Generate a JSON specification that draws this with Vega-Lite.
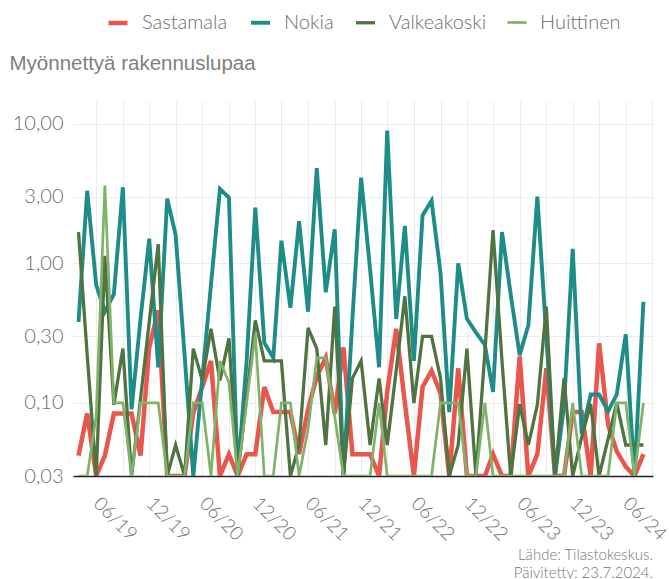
{
 "$schema": "https://vega.github.io/schema/vega-lite/v6.json",
 "width": 580, "height": 375,
 "autosize": {"type": "none"},
 "padding": {"left": 73, "top": 101, "right": 16, "bottom": 103},
 "background": "white",
 "config": {"view": {"stroke": null}, "font": "Lato"},
 "title": {"text": ["Lähde: Tilastokeskus.", "Päivitetty: 23.7.2024."], "orient": "bottom", "anchor": "end", "frame": "group", "font": "Lato", "fontSize": 15, "fontWeight": 300, "color": "#777777", "lineHeight": 18, "offset": 4, "align": "right"},
 "data": {"values": [
{"d":"2019-04-01","s":"Sastamala","v":0.042},{"d":"2019-05-01","s":"Sastamala","v":0.084},{"d":"2019-06-01","s":"Sastamala","v":0.03},{"d":"2019-07-01","s":"Sastamala","v":0.042},{"d":"2019-08-01","s":"Sastamala","v":0.084},{"d":"2019-09-01","s":"Sastamala","v":0.084},{"d":"2019-10-01","s":"Sastamala","v":0.084},{"d":"2019-11-01","s":"Sastamala","v":0.042},{"d":"2019-12-01","s":"Sastamala","v":0.25},{"d":"2020-01-01","s":"Sastamala","v":0.46},{"d":"2020-02-01","s":"Sastamala","v":0.03},{"d":"2020-03-01","s":"Sastamala","v":0.03},{"d":"2020-04-01","s":"Sastamala","v":0.03},{"d":"2020-05-01","s":"Sastamala","v":0.085},{"d":"2020-06-01","s":"Sastamala","v":0.13},{"d":"2020-07-01","s":"Sastamala","v":0.2},{"d":"2020-08-01","s":"Sastamala","v":0.03},{"d":"2020-09-01","s":"Sastamala","v":0.043},{"d":"2020-10-01","s":"Sastamala","v":0.03},{"d":"2020-11-01","s":"Sastamala","v":0.043},{"d":"2020-12-01","s":"Sastamala","v":0.043},{"d":"2021-01-01","s":"Sastamala","v":0.13},{"d":"2021-02-01","s":"Sastamala","v":0.086},{"d":"2021-03-01","s":"Sastamala","v":0.086},{"d":"2021-04-01","s":"Sastamala","v":0.086},{"d":"2021-05-01","s":"Sastamala","v":0.043},{"d":"2021-06-01","s":"Sastamala","v":0.09},{"d":"2021-07-01","s":"Sastamala","v":0.155},{"d":"2021-08-01","s":"Sastamala","v":0.21},{"d":"2021-09-01","s":"Sastamala","v":0.084},{"d":"2021-10-01","s":"Sastamala","v":0.25},{"d":"2021-11-01","s":"Sastamala","v":0.043},{"d":"2021-12-01","s":"Sastamala","v":0.043},{"d":"2022-01-01","s":"Sastamala","v":0.043},{"d":"2022-02-01","s":"Sastamala","v":0.03},{"d":"2022-03-01","s":"Sastamala","v":0.12},{"d":"2022-04-01","s":"Sastamala","v":0.34},{"d":"2022-05-01","s":"Sastamala","v":0.1},{"d":"2022-06-01","s":"Sastamala","v":0.03},{"d":"2022-07-01","s":"Sastamala","v":0.13},{"d":"2022-08-01","s":"Sastamala","v":0.17},{"d":"2022-09-01","s":"Sastamala","v":0.117},{"d":"2022-10-01","s":"Sastamala","v":0.03},{"d":"2022-11-01","s":"Sastamala","v":0.177},{"d":"2022-12-01","s":"Sastamala","v":0.03},{"d":"2023-01-01","s":"Sastamala","v":0.03},{"d":"2023-02-01","s":"Sastamala","v":0.03},{"d":"2023-03-01","s":"Sastamala","v":0.043},{"d":"2023-04-01","s":"Sastamala","v":0.03},{"d":"2023-05-01","s":"Sastamala","v":0.03},{"d":"2023-06-01","s":"Sastamala","v":0.215},{"d":"2023-07-01","s":"Sastamala","v":0.03},{"d":"2023-08-01","s":"Sastamala","v":0.043},{"d":"2023-09-01","s":"Sastamala","v":0.177},{"d":"2023-10-01","s":"Sastamala","v":0.03},{"d":"2023-11-01","s":"Sastamala","v":0.03},{"d":"2023-12-01","s":"Sastamala","v":0.086},{"d":"2024-01-01","s":"Sastamala","v":0.086},{"d":"2024-02-01","s":"Sastamala","v":0.03},{"d":"2024-03-01","s":"Sastamala","v":0.267},{"d":"2024-04-01","s":"Sastamala","v":0.07},{"d":"2024-05-01","s":"Sastamala","v":0.045},{"d":"2024-06-01","s":"Sastamala","v":0.035},{"d":"2024-07-01","s":"Sastamala","v":0.03},{"d":"2024-08-01","s":"Sastamala","v":0.043},
{"d":"2019-04-01","s":"Nokia","v":0.38},{"d":"2019-05-01","s":"Nokia","v":3.3},{"d":"2019-06-01","s":"Nokia","v":0.7},{"d":"2019-07-01","s":"Nokia","v":0.45},{"d":"2019-08-01","s":"Nokia","v":0.6},{"d":"2019-09-01","s":"Nokia","v":3.5},{"d":"2019-10-01","s":"Nokia","v":0.09},{"d":"2019-11-01","s":"Nokia","v":0.4},{"d":"2019-12-01","s":"Nokia","v":1.5},{"d":"2020-01-01","s":"Nokia","v":0.18},{"d":"2020-02-01","s":"Nokia","v":2.9},{"d":"2020-03-01","s":"Nokia","v":1.6},{"d":"2020-04-01","s":"Nokia","v":0.22},{"d":"2020-05-01","s":"Nokia","v":0.03},{"d":"2020-06-01","s":"Nokia","v":0.15},{"d":"2020-07-01","s":"Nokia","v":0.7},{"d":"2020-08-01","s":"Nokia","v":3.4},{"d":"2020-09-01","s":"Nokia","v":2.95},{"d":"2020-10-01","s":"Nokia","v":0.03},{"d":"2020-11-01","s":"Nokia","v":0.2},{"d":"2020-12-01","s":"Nokia","v":2.5},{"d":"2021-01-01","s":"Nokia","v":0.27},{"d":"2021-02-01","s":"Nokia","v":0.21},{"d":"2021-03-01","s":"Nokia","v":1.45},{"d":"2021-04-01","s":"Nokia","v":0.48},{"d":"2021-05-01","s":"Nokia","v":2.0},{"d":"2021-06-01","s":"Nokia","v":0.45},{"d":"2021-07-01","s":"Nokia","v":4.8},{"d":"2021-08-01","s":"Nokia","v":0.62},{"d":"2021-09-01","s":"Nokia","v":1.75},{"d":"2021-10-01","s":"Nokia","v":0.03},{"d":"2021-11-01","s":"Nokia","v":0.4},{"d":"2021-12-01","s":"Nokia","v":4.1},{"d":"2022-01-01","s":"Nokia","v":0.9},{"d":"2022-02-01","s":"Nokia","v":0.18},{"d":"2022-03-01","s":"Nokia","v":8.9},{"d":"2022-04-01","s":"Nokia","v":0.4},{"d":"2022-05-01","s":"Nokia","v":1.85},{"d":"2022-06-01","s":"Nokia","v":0.2},{"d":"2022-07-01","s":"Nokia","v":2.2},{"d":"2022-08-01","s":"Nokia","v":2.8},{"d":"2022-09-01","s":"Nokia","v":0.85},{"d":"2022-10-01","s":"Nokia","v":0.086},{"d":"2022-11-01","s":"Nokia","v":1.0},{"d":"2022-12-01","s":"Nokia","v":0.4},{"d":"2023-01-01","s":"Nokia","v":0.32},{"d":"2023-02-01","s":"Nokia","v":0.26},{"d":"2023-03-01","s":"Nokia","v":0.12},{"d":"2023-04-01","s":"Nokia","v":1.67},{"d":"2023-05-01","s":"Nokia","v":0.6},{"d":"2023-06-01","s":"Nokia","v":0.22},{"d":"2023-07-01","s":"Nokia","v":0.36},{"d":"2023-08-01","s":"Nokia","v":3.0},{"d":"2023-09-01","s":"Nokia","v":0.3},{"d":"2023-10-01","s":"Nokia","v":0.03},{"d":"2023-11-01","s":"Nokia","v":0.095},{"d":"2023-12-01","s":"Nokia","v":1.27},{"d":"2024-01-01","s":"Nokia","v":0.06},{"d":"2024-02-01","s":"Nokia","v":0.115},{"d":"2024-03-01","s":"Nokia","v":0.115},{"d":"2024-04-01","s":"Nokia","v":0.087},{"d":"2024-05-01","s":"Nokia","v":0.115},{"d":"2024-06-01","s":"Nokia","v":0.31},{"d":"2024-07-01","s":"Nokia","v":0.03},{"d":"2024-08-01","s":"Nokia","v":0.53},
{"d":"2019-04-01","s":"Valkeakoski","v":1.67},{"d":"2019-05-01","s":"Valkeakoski","v":0.22},{"d":"2019-06-01","s":"Valkeakoski","v":0.03},{"d":"2019-07-01","s":"Valkeakoski","v":1.13},{"d":"2019-08-01","s":"Valkeakoski","v":0.097},{"d":"2019-09-01","s":"Valkeakoski","v":0.245},{"d":"2019-10-01","s":"Valkeakoski","v":0.03},{"d":"2019-11-01","s":"Valkeakoski","v":0.107},{"d":"2019-12-01","s":"Valkeakoski","v":0.38},{"d":"2020-01-01","s":"Valkeakoski","v":1.37},{"d":"2020-02-01","s":"Valkeakoski","v":0.03},{"d":"2020-03-01","s":"Valkeakoski","v":0.05},{"d":"2020-04-01","s":"Valkeakoski","v":0.03},{"d":"2020-05-01","s":"Valkeakoski","v":0.245},{"d":"2020-06-01","s":"Valkeakoski","v":0.145},{"d":"2020-07-01","s":"Valkeakoski","v":0.34},{"d":"2020-08-01","s":"Valkeakoski","v":0.145},{"d":"2020-09-01","s":"Valkeakoski","v":0.29},{"d":"2020-10-01","s":"Valkeakoski","v":0.03},{"d":"2020-11-01","s":"Valkeakoski","v":0.11},{"d":"2020-12-01","s":"Valkeakoski","v":0.39},{"d":"2021-01-01","s":"Valkeakoski","v":0.2},{"d":"2021-02-01","s":"Valkeakoski","v":0.2},{"d":"2021-03-01","s":"Valkeakoski","v":0.2},{"d":"2021-04-01","s":"Valkeakoski","v":0.03},{"d":"2021-05-01","s":"Valkeakoski","v":0.05},{"d":"2021-06-01","s":"Valkeakoski","v":0.345},{"d":"2021-07-01","s":"Valkeakoski","v":0.245},{"d":"2021-08-01","s":"Valkeakoski","v":0.05},{"d":"2021-09-01","s":"Valkeakoski","v":0.49},{"d":"2021-10-01","s":"Valkeakoski","v":0.03},{"d":"2021-11-01","s":"Valkeakoski","v":0.15},{"d":"2021-12-01","s":"Valkeakoski","v":0.2},{"d":"2022-01-01","s":"Valkeakoski","v":0.05},{"d":"2022-02-01","s":"Valkeakoski","v":0.15},{"d":"2022-03-01","s":"Valkeakoski","v":0.05},{"d":"2022-04-01","s":"Valkeakoski","v":0.17},{"d":"2022-05-01","s":"Valkeakoski","v":0.58},{"d":"2022-06-01","s":"Valkeakoski","v":0.1},{"d":"2022-07-01","s":"Valkeakoski","v":0.3},{"d":"2022-08-01","s":"Valkeakoski","v":0.3},{"d":"2022-09-01","s":"Valkeakoski","v":0.15},{"d":"2022-10-01","s":"Valkeakoski","v":0.03},{"d":"2022-11-01","s":"Valkeakoski","v":0.05},{"d":"2022-12-01","s":"Valkeakoski","v":0.245},{"d":"2023-01-01","s":"Valkeakoski","v":0.03},{"d":"2023-02-01","s":"Valkeakoski","v":0.23},{"d":"2023-03-01","s":"Valkeakoski","v":1.73},{"d":"2023-04-01","s":"Valkeakoski","v":0.2},{"d":"2023-05-01","s":"Valkeakoski","v":0.03},{"d":"2023-06-01","s":"Valkeakoski","v":0.098},{"d":"2023-07-01","s":"Valkeakoski","v":0.05},{"d":"2023-08-01","s":"Valkeakoski","v":0.097},{"d":"2023-09-01","s":"Valkeakoski","v":0.49},{"d":"2023-10-01","s":"Valkeakoski","v":0.03},{"d":"2023-11-01","s":"Valkeakoski","v":0.15},{"d":"2023-12-01","s":"Valkeakoski","v":0.03},{"d":"2024-01-01","s":"Valkeakoski","v":0.057},{"d":"2024-02-01","s":"Valkeakoski","v":0.098},{"d":"2024-03-01","s":"Valkeakoski","v":0.03},{"d":"2024-04-01","s":"Valkeakoski","v":0.055},{"d":"2024-05-01","s":"Valkeakoski","v":0.1},{"d":"2024-06-01","s":"Valkeakoski","v":0.05},{"d":"2024-07-01","s":"Valkeakoski","v":0.05},{"d":"2024-08-01","s":"Valkeakoski","v":0.05},
{"d":"2019-04-01","s":"Huittinen","v":0.03},{"d":"2019-05-01","s":"Huittinen","v":0.03},{"d":"2019-06-01","s":"Huittinen","v":0.08},{"d":"2019-07-01","s":"Huittinen","v":3.6},{"d":"2019-08-01","s":"Huittinen","v":0.1},{"d":"2019-09-01","s":"Huittinen","v":0.1},{"d":"2019-10-01","s":"Huittinen","v":0.03},{"d":"2019-11-01","s":"Huittinen","v":0.1},{"d":"2019-12-01","s":"Huittinen","v":0.1},{"d":"2020-01-01","s":"Huittinen","v":0.1},{"d":"2020-02-01","s":"Huittinen","v":0.03},{"d":"2020-03-01","s":"Huittinen","v":0.03},{"d":"2020-04-01","s":"Huittinen","v":0.03},{"d":"2020-05-01","s":"Huittinen","v":0.1},{"d":"2020-06-01","s":"Huittinen","v":0.1},{"d":"2020-07-01","s":"Huittinen","v":0.03},{"d":"2020-08-01","s":"Huittinen","v":0.2},{"d":"2020-09-01","s":"Huittinen","v":0.14},{"d":"2020-10-01","s":"Huittinen","v":0.03},{"d":"2020-11-01","s":"Huittinen","v":0.1},{"d":"2020-12-01","s":"Huittinen","v":0.31},{"d":"2021-01-01","s":"Huittinen","v":0.03},{"d":"2021-02-01","s":"Huittinen","v":0.03},{"d":"2021-03-01","s":"Huittinen","v":0.1},{"d":"2021-04-01","s":"Huittinen","v":0.1},{"d":"2021-05-01","s":"Huittinen","v":0.03},{"d":"2021-06-01","s":"Huittinen","v":0.065},{"d":"2021-07-01","s":"Huittinen","v":0.21},{"d":"2021-08-01","s":"Huittinen","v":0.21},{"d":"2021-09-01","s":"Huittinen","v":0.08},{"d":"2021-10-01","s":"Huittinen","v":0.03},{"d":"2021-11-01","s":"Huittinen","v":0.03},{"d":"2021-12-01","s":"Huittinen","v":0.03},{"d":"2022-01-01","s":"Huittinen","v":0.03},{"d":"2022-02-01","s":"Huittinen","v":0.1},{"d":"2022-03-01","s":"Huittinen","v":0.03},{"d":"2022-04-01","s":"Huittinen","v":0.03},{"d":"2022-05-01","s":"Huittinen","v":0.03},{"d":"2022-06-01","s":"Huittinen","v":0.03},{"d":"2022-07-01","s":"Huittinen","v":0.03},{"d":"2022-08-01","s":"Huittinen","v":0.03},{"d":"2022-09-01","s":"Huittinen","v":0.1},{"d":"2022-10-01","s":"Huittinen","v":0.1},{"d":"2022-11-01","s":"Huittinen","v":0.1},{"d":"2022-12-01","s":"Huittinen","v":0.03},{"d":"2023-01-01","s":"Huittinen","v":0.03},{"d":"2023-02-01","s":"Huittinen","v":0.1},{"d":"2023-03-01","s":"Huittinen","v":0.03},{"d":"2023-04-01","s":"Huittinen","v":0.03},{"d":"2023-05-01","s":"Huittinen","v":0.03},{"d":"2023-06-01","s":"Huittinen","v":0.03},{"d":"2023-07-01","s":"Huittinen","v":0.03},{"d":"2023-08-01","s":"Huittinen","v":0.03},{"d":"2023-09-01","s":"Huittinen","v":0.03},{"d":"2023-10-01","s":"Huittinen","v":0.03},{"d":"2023-11-01","s":"Huittinen","v":0.03},{"d":"2023-12-01","s":"Huittinen","v":0.1},{"d":"2024-01-01","s":"Huittinen","v":0.03},{"d":"2024-02-01","s":"Huittinen","v":0.03},{"d":"2024-03-01","s":"Huittinen","v":0.03},{"d":"2024-04-01","s":"Huittinen","v":0.03},{"d":"2024-05-01","s":"Huittinen","v":0.1},{"d":"2024-06-01","s":"Huittinen","v":0.1},{"d":"2024-07-01","s":"Huittinen","v":0.03},{"d":"2024-08-01","s":"Huittinen","v":0.1}
 ]},
 "mark": {"type": "line", "clip": true, "strokeJoin": "miter"},
 "encoding": {
  "x": {"field": "d", "type": "temporal",
   "scale": {"domain": [{"year": 2019, "month": 3, "date": 13}, {"year": 2024, "month": 9, "date": 3}]},
   "axis": {"title": null,
    "values": [{"year":2019,"month":6,"date":1},{"year":2019,"month":9,"date":1},{"year":2019,"month":12,"date":1},{"year":2020,"month":3,"date":1},{"year":2020,"month":6,"date":1},{"year":2020,"month":9,"date":1},{"year":2020,"month":12,"date":1},{"year":2021,"month":3,"date":1},{"year":2021,"month":6,"date":1},{"year":2021,"month":9,"date":1},{"year":2021,"month":12,"date":1},{"year":2022,"month":3,"date":1},{"year":2022,"month":6,"date":1},{"year":2022,"month":9,"date":1},{"year":2022,"month":12,"date":1},{"year":2023,"month":3,"date":1},{"year":2023,"month":6,"date":1},{"year":2023,"month":9,"date":1},{"year":2023,"month":12,"date":1},{"year":2024,"month":3,"date":1},{"year":2024,"month":6,"date":1},{"year":2024,"month":9,"date":1}],
    "labelExpr": "(month(datum.value) == 5 || month(datum.value) == 11) ? timeFormat(datum.value, '%m/%y') : ''",
    "labelAngle": 45, "labelAlign": "left", "labelBaseline": "middle", "labelPadding": 24,
    "labelFont": "Lato", "labelFontSize": 19, "labelFontWeight": 300, "labelColor": "#6e6e6e", "labelOverlap": false,
    "ticks": false, "grid": true, "gridColor": "#ececec", "gridWidth": 1,
    "domain": true, "domainColor": "#222222", "domainWidth": 1.5}},
  "y": {"field": "v", "type": "quantitative",
   "scale": {"type": "log", "domain": [0.03, 14.5], "nice": false},
   "axis": {"values": [0.03, 0.1, 0.3, 1, 3, 10],
    "labelExpr": "replace(format(datum.value, '.2f'), '.', ',')",
    "labelFont": "Lato", "labelFontSize": 20, "labelFontWeight": 300, "labelColor": "#6e6e6e", "labelPadding": 10,
    "ticks": false, "domain": false, "grid": true, "gridColor": "#ececec", "gridWidth": 1,
    "title": "Myönnettyä rakennuslupaa", "titleAngle": 0, "titleAlign": "left", "titleBaseline": "alphabetic",
    "titleX": -64, "titleY": -32, "titleFont": "Liberation Sans", "titleFontSize": 20.5, "titleFontWeight": "normal", "titleColor": "#808080"}},
  "color": {"field": "s", "type": "nominal",
   "scale": {"domain": ["Sastamala", "Nokia", "Valkeakoski", "Huittinen"], "range": ["#E8564E", "#1E8D88", "#4F7442", "#7FB36A"]},
   "legend": {"orient": "none", "legendX": 33, "legendY": -90, "direction": "horizontal", "title": null,
    "symbolType": "stroke", "symbolSize": 361, "symbolStrokeWidth": 7,
    "labelFont": "Lato", "labelFontSize": 20, "labelFontWeight": 300, "labelColor": "#6e6e6e", "labelOffset": 12, "columnPadding": 15, "padding": 0}},
  "strokeWidth": {"field": "s", "type": "nominal", "scale": {"domain": ["Sastamala", "Nokia", "Valkeakoski", "Huittinen"], "range": [4.5, 2.7, 2.7, 2.7]}, "legend": null}
 }
}
